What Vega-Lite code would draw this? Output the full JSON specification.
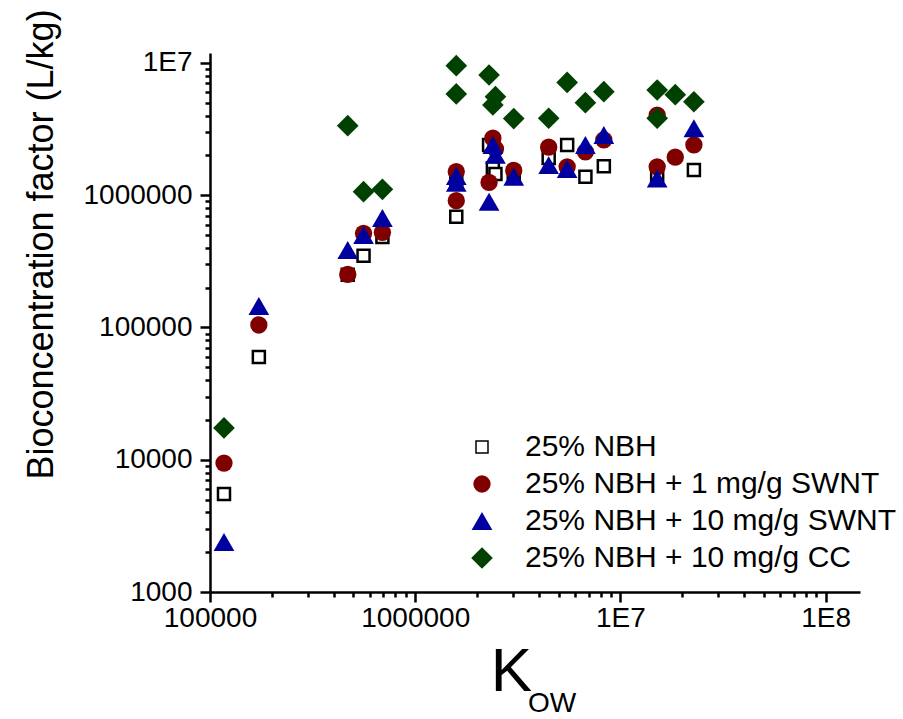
{
  "$schema": "https://vega.github.io/schema/vega-lite/v6.json",
  "width": 650,
  "height": 539,
  "autosize": {"type": "none"},
  "padding": {"left": 210, "top": 53, "right": 43, "bottom": 127},
  "background": "white",
  "config": {
    "view": {"stroke": null},
    "font": "Liberation Sans",
    "axis": {
      "domainColor": "black",
      "domainWidth": 2.5,
      "tickColor": "black",
      "tickWidth": 2.5,
      "grid": false,
      "labelColor": "black",
      "labelFont": "Liberation Sans",
      "labelFontSize": 28,
      "labelOverlap": false,
      "labelFlush": false,
      "titleColor": "black",
      "titleFont": "Liberation Sans",
      "titleFontWeight": "normal"
    }
  },
  "title": {
    "text": "OW",
    "orient": "bottom",
    "anchor": "middle",
    "frame": "group",
    "dx": 17,
    "offset": -12,
    "fontSize": 28,
    "fontWeight": "normal",
    "font": "Liberation Sans",
    "color": "black"
  },
  "data": {
    "values": [
      {"kow": 117000, "bcf": 5510, "series": "25% NBH"},
      {"kow": 173000, "bcf": 59800, "series": "25% NBH"},
      {"kow": 469000, "bcf": 250000, "series": "25% NBH"},
      {"kow": 560000, "bcf": 349000, "series": "25% NBH"},
      {"kow": 692000, "bcf": 483000, "series": "25% NBH"},
      {"kow": 1585000, "bcf": 689000, "series": "25% NBH"},
      {"kow": 1585000, "bcf": 1300000, "series": "25% NBH"},
      {"kow": 2290000, "bcf": 2400000, "series": "25% NBH"},
      {"kow": 2390000, "bcf": 1600000, "series": "25% NBH"},
      {"kow": 2460000, "bcf": 1450000, "series": "25% NBH"},
      {"kow": 3020000, "bcf": 1450000, "series": "25% NBH"},
      {"kow": 4470000, "bcf": 1910000, "series": "25% NBH"},
      {"kow": 5500000, "bcf": 2400000, "series": "25% NBH"},
      {"kow": 6750000, "bcf": 1380000, "series": "25% NBH"},
      {"kow": 8300000, "bcf": 1660000, "series": "25% NBH"},
      {"kow": 15100000, "bcf": 1420000, "series": "25% NBH"},
      {"kow": 22800000, "bcf": 1550000, "series": "25% NBH"},

      {"kow": 117000, "bcf": 9440, "series": "25% NBH + 1 mg/g SWNT"},
      {"kow": 173000, "bcf": 104500, "series": "25% NBH + 1 mg/g SWNT"},
      {"kow": 469000, "bcf": 252000, "series": "25% NBH + 1 mg/g SWNT"},
      {"kow": 560000, "bcf": 515000, "series": "25% NBH + 1 mg/g SWNT"},
      {"kow": 692000, "bcf": 524000, "series": "25% NBH + 1 mg/g SWNT"},
      {"kow": 1585000, "bcf": 1510000, "series": "25% NBH + 1 mg/g SWNT"},
      {"kow": 1585000, "bcf": 910000, "series": "25% NBH + 1 mg/g SWNT"},
      {"kow": 2290000, "bcf": 1250000, "series": "25% NBH + 1 mg/g SWNT"},
      {"kow": 2390000, "bcf": 2700000, "series": "25% NBH + 1 mg/g SWNT"},
      {"kow": 2460000, "bcf": 2240000, "series": "25% NBH + 1 mg/g SWNT"},
      {"kow": 3020000, "bcf": 1540000, "series": "25% NBH + 1 mg/g SWNT"},
      {"kow": 4470000, "bcf": 2310000, "series": "25% NBH + 1 mg/g SWNT"},
      {"kow": 5500000, "bcf": 1640000, "series": "25% NBH + 1 mg/g SWNT"},
      {"kow": 6750000, "bcf": 2130000, "series": "25% NBH + 1 mg/g SWNT"},
      {"kow": 8300000, "bcf": 2620000, "series": "25% NBH + 1 mg/g SWNT"},
      {"kow": 15100000, "bcf": 4040000, "series": "25% NBH + 1 mg/g SWNT"},
      {"kow": 15100000, "bcf": 1640000, "series": "25% NBH + 1 mg/g SWNT"},
      {"kow": 18500000, "bcf": 1940000, "series": "25% NBH + 1 mg/g SWNT"},
      {"kow": 22800000, "bcf": 2400000, "series": "25% NBH + 1 mg/g SWNT"},

      {"kow": 117000, "bcf": 2390, "series": "25% NBH + 10 mg/g SWNT"},
      {"kow": 173000, "bcf": 145600, "series": "25% NBH + 10 mg/g SWNT"},
      {"kow": 469000, "bcf": 385000, "series": "25% NBH + 10 mg/g SWNT"},
      {"kow": 560000, "bcf": 500000, "series": "25% NBH + 10 mg/g SWNT"},
      {"kow": 692000, "bcf": 673000, "series": "25% NBH + 10 mg/g SWNT"},
      {"kow": 1585000, "bcf": 1400000, "series": "25% NBH + 10 mg/g SWNT"},
      {"kow": 1585000, "bcf": 1240000, "series": "25% NBH + 10 mg/g SWNT"},
      {"kow": 2290000, "bcf": 893000, "series": "25% NBH + 10 mg/g SWNT"},
      {"kow": 2390000, "bcf": 2400000, "series": "25% NBH + 10 mg/g SWNT"},
      {"kow": 2460000, "bcf": 2020000, "series": "25% NBH + 10 mg/g SWNT"},
      {"kow": 3020000, "bcf": 1380000, "series": "25% NBH + 10 mg/g SWNT"},
      {"kow": 4470000, "bcf": 1690000, "series": "25% NBH + 10 mg/g SWNT"},
      {"kow": 5500000, "bcf": 1580000, "series": "25% NBH + 10 mg/g SWNT"},
      {"kow": 6750000, "bcf": 2400000, "series": "25% NBH + 10 mg/g SWNT"},
      {"kow": 8300000, "bcf": 2850000, "series": "25% NBH + 10 mg/g SWNT"},
      {"kow": 15100000, "bcf": 1340000, "series": "25% NBH + 10 mg/g SWNT"},
      {"kow": 22800000, "bcf": 3210000, "series": "25% NBH + 10 mg/g SWNT"},

      {"kow": 117000, "bcf": 17400, "series": "25% NBH + 10 mg/g CC"},
      {"kow": 469000, "bcf": 3360000, "series": "25% NBH + 10 mg/g CC"},
      {"kow": 560000, "bcf": 1064000, "series": "25% NBH + 10 mg/g CC"},
      {"kow": 692000, "bcf": 1109000, "series": "25% NBH + 10 mg/g CC"},
      {"kow": 1585000, "bcf": 9550000, "series": "25% NBH + 10 mg/g CC"},
      {"kow": 1585000, "bcf": 5840000, "series": "25% NBH + 10 mg/g CC"},
      {"kow": 2290000, "bcf": 8110000, "series": "25% NBH + 10 mg/g CC"},
      {"kow": 2390000, "bcf": 4810000, "series": "25% NBH + 10 mg/g CC"},
      {"kow": 2460000, "bcf": 5560000, "series": "25% NBH + 10 mg/g CC"},
      {"kow": 3020000, "bcf": 3800000, "series": "25% NBH + 10 mg/g CC"},
      {"kow": 4470000, "bcf": 3820000, "series": "25% NBH + 10 mg/g CC"},
      {"kow": 5500000, "bcf": 7130000, "series": "25% NBH + 10 mg/g CC"},
      {"kow": 6750000, "bcf": 5010000, "series": "25% NBH + 10 mg/g CC"},
      {"kow": 8300000, "bcf": 6070000, "series": "25% NBH + 10 mg/g CC"},
      {"kow": 15100000, "bcf": 6250000, "series": "25% NBH + 10 mg/g CC"},
      {"kow": 15100000, "bcf": 3820000, "series": "25% NBH + 10 mg/g CC"},
      {"kow": 18500000, "bcf": 5760000, "series": "25% NBH + 10 mg/g CC"},
      {"kow": 22800000, "bcf": 5090000, "series": "25% NBH + 10 mg/g CC"}
    ]
  },
  "mark": {"type": "point", "filled": true, "strokeWidth": 2.5, "opacity": 1},
  "encoding": {
    "x": {
      "field": "kow",
      "type": "quantitative",
      "scale": {"type": "log", "domain": [100000, 147000000], "nice": false},
      "axis": {
        "values": [100000, 200000, 300000, 400000, 500000, 600000, 700000, 800000, 900000, 1000000, 2000000, 3000000, 4000000, 5000000, 6000000, 7000000, 8000000, 9000000, 10000000, 20000000, 30000000, 40000000, 50000000, 60000000, 70000000, 80000000, 90000000, 100000000],
        "format": "d",
        "labelExpr": "datum.value == 10000000 ? '1E7' : datum.value == 100000000 ? '1E8' : (datum.value == 100000 || datum.value == 1000000) ? datum.label : ''",
        "tickSize": {"condition": {"test": "indexof([100000,1000000,10000000,100000000], datum.value) >= 0", "value": 10}, "value": 5},
        "labelPadding": 2,
        "title": "K",
        "titleFontSize": 62,
        "titleX": 301,
        "titleY": 98,
        "titleBaseline": "alphabetic",
        "titleAlign": "center"
      }
    },
    "y": {
      "field": "bcf",
      "type": "quantitative",
      "scale": {"type": "log", "domain": [1000, 11900000], "nice": false},
      "axis": {
        "values": [1000, 2000, 3000, 4000, 5000, 6000, 7000, 8000, 9000, 10000, 20000, 30000, 40000, 50000, 60000, 70000, 80000, 90000, 100000, 200000, 300000, 400000, 500000, 600000, 700000, 800000, 900000, 1000000, 2000000, 3000000, 4000000, 5000000, 6000000, 7000000, 8000000, 9000000, 10000000],
        "format": "d",
        "labelExpr": "datum.value == 10000000 ? '1E7' : (datum.value == 1000 || datum.value == 10000 || datum.value == 100000 || datum.value == 1000000) ? datum.label : ''",
        "tickSize": {"condition": {"test": "indexof([1000,10000,100000,1000000,10000000], datum.value) >= 0", "value": 10}, "value": 5},
        "labelPadding": 8,
        "title": "Bioconcentration factor (L/kg)",
        "titleFontSize": 36,
        "titleAngle": -90,
        "titleX": -158,
        "titleY": 191,
        "titleBaseline": "alphabetic",
        "titleAlign": "center"
      }
    },
    "shape": {
      "field": "series",
      "type": "nominal",
      "scale": {
        "domain": ["25% NBH", "25% NBH + 1 mg/g SWNT", "25% NBH + 10 mg/g SWNT", "25% NBH + 10 mg/g CC"],
        "range": ["square", "circle", "triangle-up", "diamond"]
      },
      "legend": {
        "title": null,
        "orient": "none",
        "legendX": 257,
        "legendY": 379,
        "labelFontSize": 30,
        "labelFont": "Liberation Sans",
        "labelColor": "black",
        "labelOffset": 28,
        "rowPadding": 7,
        "labelLimit": 500
      }
    },
    "fill": {
      "field": "series",
      "type": "nominal",
      "scale": {
        "domain": ["25% NBH", "25% NBH + 1 mg/g SWNT", "25% NBH + 10 mg/g SWNT", "25% NBH + 10 mg/g CC"],
        "range": ["white", "#800000", "#0000A0", "#004000"]
      }
    },
    "stroke": {
      "field": "series",
      "type": "nominal",
      "scale": {
        "domain": ["25% NBH", "25% NBH + 1 mg/g SWNT", "25% NBH + 10 mg/g SWNT", "25% NBH + 10 mg/g CC"],
        "range": ["black", "transparent", "transparent", "transparent"]
      }
    },
    "size": {
      "field": "series",
      "type": "nominal",
      "scale": {
        "type": "ordinal",
        "domain": ["25% NBH", "25% NBH + 1 mg/g SWNT", "25% NBH + 10 mg/g SWNT", "25% NBH + 10 mg/g CC"],
        "range": [144, 300, 430, 470]
      }
    }
  }
}
